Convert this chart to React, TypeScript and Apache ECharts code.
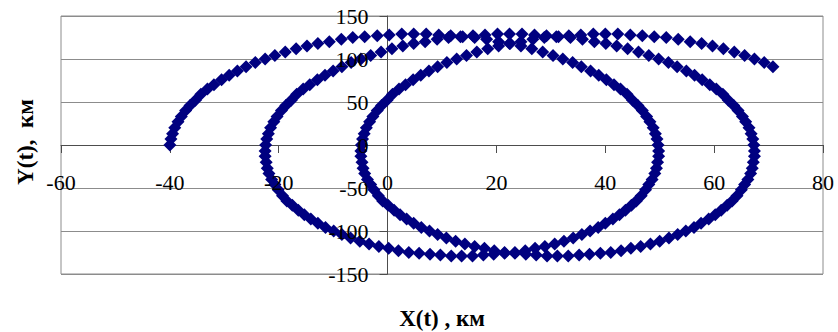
import { useEffect, useRef } from "react";
import * as echarts from "echarts";

// Trajectory X(t), Y(t) in km, one array pair per loop of the drifting spiral.
const loop1X = [
  -40.0, -39.8, -39.5, -39.1, -38.5, -37.9, -37.1, -36.3, -35.3, -34.3,
  -33.1, -31.9, -30.5, -29.1, -27.6, -26.0, -24.3, -22.5, -20.7, -18.8,
  -16.8, -14.8, -12.8, -10.7, -8.5, -6.4, -4.2, -1.9, 0.3, 2.6,
  4.8, 7.1, 9.4, 11.6, 13.8, 16.0, 18.2, 20.4, 22.5, 24.5,
  26.5, 28.5, 30.4, 32.2, 34.0, 35.6, 37.3, 38.8, 40.2, 41.6,
  42.8, 44.0, 45.0, 46.0, 46.8, 47.6, 48.2, 48.8, 49.2, 49.5,
  49.7, 49.8, 49.8, 49.6, 49.4, 49.1, 48.6, 48.0, 47.4, 46.6,
  45.7, 44.8, 43.7, 42.6, 41.4, 40.0, 38.7, 37.2, 35.7, 34.1,
  32.4, 30.7, 28.9, 27.1, 25.3, 23.4, 21.5, 19.5, 17.6, 15.6,
  13.6, 11.7, 9.7, 7.8, 5.8, 3.9, 2.0, 0.2, -1.6, -3.4,
  -5.1, -6.8, -8.4, -9.9, -11.4, -12.8, -14.1, -15.3, -16.4, -17.5,
  -18.5, -19.3, -20.1, -20.7, -21.3, -21.8, -22.1, -22.3, -22.5, -22.5,
];
const loop1Y = [
  0, 7, 13, 20, 27, 33, 40, 46, 52, 59,
  65, 70, 76, 81, 86, 91, 96, 100, 104, 108,
  112, 115, 118, 120, 123, 125, 126, 127, 128, 129,
  129, 129, 128, 127, 126, 125, 123, 120, 118, 115,
  112, 108, 104, 100, 96, 91, 86, 81, 76, 70,
  65, 59, 52, 46, 40, 33, 27, 20, 13, 7,
  0, -7, -13, -20, -27, -33, -40, -46, -52, -59,
  -65, -70, -76, -81, -86, -91, -96, -100, -104, -108,
  -112, -115, -118, -120, -123, -125, -126, -127, -128, -129,
  -129, -129, -128, -127, -126, -125, -123, -120, -118, -115,
  -112, -108, -104, -100, -96, -91, -86, -81, -76, -70,
  -65, -59, -52, -46, -40, -33, -27, -20, -13, -7,
];

const loop2X = [
  -22.4, -22.2, -21.9, -21.5, -20.9, -20.3, -19.5, -18.7, -17.7, -16.7,
  -15.5, -14.3, -12.9, -11.5, -10.0, -8.4, -6.7, -4.9, -3.1, -1.2,
  0.8, 2.8, 4.8, 6.9, 9.1, 11.2, 13.4, 15.7, 17.9, 20.2,
  22.4, 24.7, 27.0, 29.2, 31.4, 33.6, 35.8, 38.0, 40.1, 42.1,
  44.1, 46.1, 48.0, 49.8, 51.6, 53.2, 54.9, 56.4, 57.8, 59.2,
  60.4, 61.6, 62.6, 63.6, 64.4, 65.2, 65.8, 66.4, 66.8, 67.1,
  67.3, 67.4, 67.4, 67.2, 67.0, 66.7, 66.2, 65.6, 65.0, 64.2,
  63.3, 62.4, 61.3, 60.2, 59.0, 57.6, 56.3, 54.8, 53.3, 51.7,
  50.0, 48.3, 46.5, 44.7, 42.9, 41.0, 39.1, 37.1, 35.2, 33.2,
  31.2, 29.3, 27.3, 25.4, 23.4, 21.5, 19.6, 17.8, 16.0, 14.2,
  12.5, 10.8, 9.2, 7.7, 6.2, 4.8, 3.5, 2.3, 1.2, 0.1,
  -0.9, -1.7, -2.5, -3.1, -3.7, -4.2, -4.5, -4.7, -4.9, -4.9,
];
const loop2Y = [
  0, 7, 13, 20, 27, 33, 40, 46, 52, 59,
  65, 70, 76, 81, 86, 91, 96, 100, 104, 108,
  112, 115, 118, 120, 123, 125, 126, 127, 128, 129,
  129, 129, 128, 127, 126, 125, 123, 120, 118, 115,
  112, 108, 104, 100, 96, 91, 86, 81, 76, 70,
  65, 59, 52, 46, 40, 33, 27, 20, 13, 7,
  0, -7, -13, -20, -27, -33, -40, -46, -52, -59,
  -65, -70, -76, -81, -86, -91, -96, -100, -104, -108,
  -112, -115, -118, -120, -123, -125, -126, -127, -128, -129,
  -129, -129, -128, -127, -126, -125, -123, -120, -118, -115,
  -112, -108, -104, -100, -96, -91, -86, -81, -76, -70,
  -65, -59, -52, -46, -40, -33, -27, -20, -13, -7,
];

const loop3X = [
  -4.8, -4.6, -4.3, -3.9, -3.3, -2.7, -1.9, -1.1, -0.1, 0.9,
  2.1, 3.3, 4.7, 6.1, 7.6, 9.2, 10.9, 12.7, 14.5, 16.4,
  18.4, 20.4, 22.4, 24.5, 26.7, 28.8, 31.0, 33.3, 35.5, 37.8,
  40.0, 42.3, 44.6, 46.8, 49.0, 51.2, 53.4, 55.6, 57.7, 59.7,
  61.7, 63.7, 65.6, 67.4, 69.2, 70.8,
];
const loop3Y = [
  0, 7, 13, 20, 27, 33, 40, 46, 52, 59,
  65, 70, 76, 81, 86, 91, 96, 100, 104, 108,
  112, 115, 118, 120, 123, 125, 126, 127, 128, 129,
  129, 129, 128, 127, 126, 125, 123, 120, 118, 115,
  112, 108, 104, 100, 96, 91,
];

// Axis ranges and tick steps
const xRange = [-60, 80];
const xStep = 20;
const yRange = [-150, 150];
const yStep = 50;

const xTitle = "X(t) , км";
const yTitle = "Y(t),  км";

const FONT = "'Liberation Serif', 'Times New Roman', serif";
const MARK = "#000080";
const GRID = "#8c8c8c";
const AXIS = "#4d4d4d";

const W = 838;
const H = 332;
const plot = { left: 61, right: 15, top: 16, bottom: 58 };

function zip(xs: number[], ys: number[]): number[][] {
  return xs.map((x, i) => [x, ys[i]]);
}

export default function App() {
  const ref = useRef<HTMLDivElement>(null);

  useEffect(() => {
    if (!ref.current) return;
    const chart = echarts.init(ref.current, null, { renderer: "svg" });

    const points = [
      ...zip(loop1X, loop1Y),
      ...zip(loop2X, loop2Y),
      ...zip(loop3X, loop3Y),
    ];

    // Tick labels sit beside the axes that cross at the origin,
    // so their axes are shifted from the plot edges to the zero lines.
    const plotW = W - plot.left - plot.right;
    const plotH = H - plot.top - plot.bottom;
    const zeroFromLeft = (plotW * (0 - xRange[0])) / (xRange[1] - xRange[0]);
    const zeroFromBottom = (plotH * (0 - yRange[0])) / (yRange[1] - yRange[0]);

    const labelStyle = {
      fontFamily: FONT,
      fontSize: 22,
      fontWeight: "normal",
      color: "#000",
    };

    chart.setOption({
      animation: false,
      backgroundColor: "#fff",
      textStyle: { fontFamily: FONT },
      grid: {
        ...plot,
        show: true,
        borderColor: GRID,
        borderWidth: 1,
        backgroundColor: "transparent",
      },
      xAxis: [
        {
          type: "value",
          min: xRange[0],
          max: xRange[1],
          interval: xStep,
          z: 0,
          axisLine: { show: true, onZero: true, lineStyle: { color: AXIS, width: 1 } },
          axisTick: { show: true, inside: false, length: 8, lineStyle: { color: AXIS } },
          axisLabel: { show: false },
          splitLine: { show: false },
        },
        {
          type: "value",
          min: xRange[0],
          max: xRange[1],
          interval: xStep,
          position: "bottom",
          offset: -zeroFromBottom,
          z: 5,
          axisLine: { show: false, onZero: false },
          axisTick: { show: false },
          axisLabel: { ...labelStyle, margin: 26 },
          splitLine: { show: false },
        },
      ],
      yAxis: [
        {
          type: "value",
          min: yRange[0],
          max: yRange[1],
          interval: yStep,
          z: 0,
          axisLine: { show: true, onZero: true, lineStyle: { color: AXIS, width: 1 } },
          axisTick: { show: true, inside: false, length: 8, lineStyle: { color: AXIS } },
          axisLabel: { show: false },
          splitLine: { show: true, lineStyle: { color: GRID, width: 1 } },
        },
        {
          type: "value",
          min: yRange[0],
          max: yRange[1],
          interval: yStep,
          position: "left",
          offset: -zeroFromLeft,
          z: 5,
          axisLine: { show: false, onZero: false },
          axisTick: { show: false },
          axisLabel: { ...labelStyle, margin: 19 },
          splitLine: { show: false },
        },
      ],
      series: [
        {
          type: "scatter",
          xAxisIndex: 0,
          yAxisIndex: 0,
          z: 2,
          symbol: "diamond",
          symbolSize: 13,
          itemStyle: { color: MARK, opacity: 1 },
          data: points,
        },
      ],
      graphic: [
        {
          type: "text",
          x: 25,
          y: 142,
          rotation: Math.PI / 2,
          style: {
            text: yTitle,
            fontFamily: FONT,
            fontWeight: "bold",
            fontSize: 23,
            fill: "#000",
            align: "center",
            verticalAlign: "middle",
          },
        },
        {
          type: "text",
          x: 442,
          y: 318,
          style: {
            text: xTitle,
            fontFamily: FONT,
            fontWeight: "bold",
            fontSize: 23,
            fill: "#000",
            align: "center",
            verticalAlign: "middle",
          },
        },
      ],
    });

    return () => chart.dispose();
  }, []);

  return (
    <div
      ref={ref}
      style={{ position: "fixed", left: 0, top: 0, width: W, height: H }}
    />
  );
}
